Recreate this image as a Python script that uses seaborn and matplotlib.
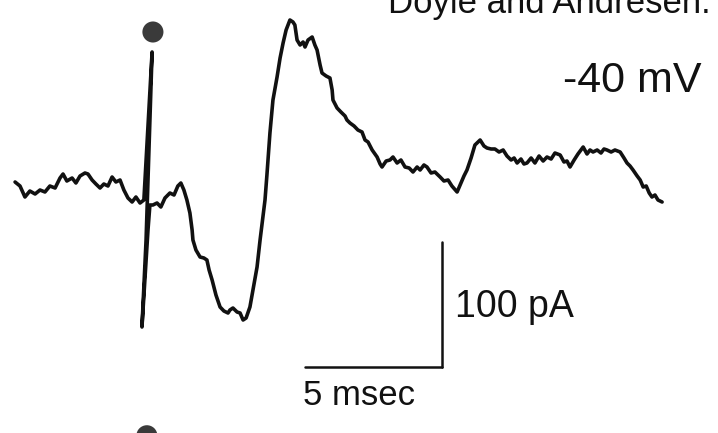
import numpy as np
import pandas as pd
import matplotlib
matplotlib.use("Agg")
import matplotlib.pyplot as plt
import seaborn as sns

# Whole-cell current trace at -40 mV, time in ms (0 = stimulus), current in pA
time_ms = [
    -4.85, -4.67, -4.49, -4.31, -4.12, -3.94, -3.76, -3.58, -3.39, -3.21,
    -3.10, -2.96, -2.77, -2.63, -2.48, -2.30, -2.19, -2.04, -1.90, -1.75,
    -1.61, -1.46, -1.31, -1.17, -1.02, -0.88, -0.73, -0.58, -0.44, -0.29,
    -0.15,
    # stimulus artifact
    0.15, -0.07, -0.22, 0.00, 0.07,
    0.18, 0.33, 0.47, 0.62, 0.80, 0.95, 1.09, 1.20, 1.31, 1.42,
    1.53, 1.61, 1.64, 1.75, 1.90, 2.04, 2.15, 2.23, 2.34, 2.48,
    2.63, 2.77, 2.92, 2.99, 3.10, 3.25, 3.36, 3.47, 3.58, 3.72,
    3.83, 3.98, 4.09, 4.20, 4.27, 4.34, 4.45, 4.56, 4.71, 4.82,
    4.93, 5.04, 5.18, 5.29, 5.36, 5.44, 5.55, 5.66, 5.73, 5.84,
    5.99, 6.09, 6.17, 6.28, 6.35, 6.50, 6.64, 6.72, 6.75, 6.90,
    7.04, 7.19, 7.26, 7.37, 7.52, 7.66, 7.81, 7.92, 8.03, 8.18,
    8.36, 8.47, 8.54, 8.69, 8.83, 8.94, 9.09, 9.23, 9.38, 9.53,
    9.67, 9.82, 9.93, 10.07, 10.18, 10.33, 10.47, 10.66, 10.80, 10.95,
    11.09, 11.28, 11.39, 11.53, 11.64, 11.79, 11.93, 12.12, 12.26, 12.37,
    12.52, 12.66, 12.81, 12.96, 13.10, 13.25, 13.36, 13.47, 13.61, 13.72,
    13.83, 13.98, 14.12, 14.27, 14.42, 14.56, 14.71, 14.85, 15.04, 15.18,
    15.29, 15.40, 15.55, 15.69, 15.80, 15.88, 16.02, 16.13, 16.24, 16.39,
    16.53, 16.64, 16.75, 16.90, 17.04, 17.23, 17.37, 17.48, 17.59, 17.70,
    17.85, 17.96, 18.07, 18.18, 18.29, 18.39, 18.50, 18.61, 18.76,
]
current_pA = [
    0.0, -3.2, -12.0, -7.2, -9.6, -6.4, -8.0, -3.2, -4.8, 3.2,
    6.4, 0.8, 3.2, -0.8, 4.8, 7.2, 6.4, 1.6, -1.6, -4.8,
    -1.6, -3.2, 4.0, 0.0, 1.6, -6.4, -12.8, -16.0, -12.0, -16.8,
    -14.4,
    104.0, -46.4, -116.0, -38.4, -18.4,
    -18.4, -16.8, -20.0, -12.8, -8.8, -10.4, -3.2, -0.8, -6.4, -14.4,
    -24.8, -38.4, -46.4, -54.4, -60.0, -60.8, -62.4, -70.4, -78.4, -90.4,
    -100.0, -103.2, -104.8, -102.4, -100.8, -104.0, -104.8, -110.4, -108.8, -100.0,
    -86.4, -68.0, -46.4, -26.4, -14.4, 5.6, 39.2, 65.6, 84.0, 99.2,
    111.2, 121.6, 129.6, 128.0, 125.6, 113.6, 109.6, 112.0, 108.0, 113.6,
    116.0, 109.6, 105.6, 93.6, 87.2, 84.8, 83.2, 73.6, 65.6, 59.2,
    56.0, 52.8, 49.6, 47.2, 44.8, 41.6, 40.0, 33.6, 32.0, 25.6,
    20.0, 14.4, 12.0, 16.8, 17.6, 20.0, 15.2, 17.6, 12.0, 11.2,
    8.0, 12.0, 9.6, 13.6, 12.0, 7.2, 8.0, 4.0, 0.8, 1.6,
    -3.2, -8.0, -2.4, 4.8, 9.6, 19.2, 29.6, 33.6, 28.8, 27.2,
    26.4, 26.4, 24.0, 25.6, 20.8, 17.6, 19.2, 15.2, 18.4, 14.4,
    15.2, 19.2, 15.2, 20.8, 16.8, 20.0, 18.4, 23.2, 21.6, 16.0,
    16.8, 12.0, 17.6, 22.4, 25.6, 28.0, 22.4, 25.6, 24.0, 25.6,
    23.2, 26.4, 25.6, 24.0, 25.6, 24.0, 19.2, 15.2, 12.8, 9.6,
    4.8, 1.6, -4.0, -3.2, -8.8, -12.0, -10.4, -14.4, -16.0,
]

# stimulus markers (filled dots)
marker_t = [0.18, -0.04]
marker_i = [120.0, -203.0]

# calibration bars
bar_t0, bar_len_ms = 5.73, 5
bar_i0, bar_len_pA = -148.0, 100

trace = pd.DataFrame({"t": time_ms, "i": current_pA})
dots = pd.DataFrame({"t": marker_t, "i": marker_i})

sns.set_style("white")
plt.rcParams["font.family"] = ["Liberation Sans", "DejaVu Sans"]

fig = plt.figure(figsize=(7.18, 4.33), dpi=100)
ax = fig.add_axes([0, 0, 1, 1])

sns.lineplot(data=trace, x="t", y="i", sort=False, estimator=None,
             color="#111111", linewidth=2.6, ax=ax)
sns.scatterplot(data=dots, x="t", y="i", s=230, color="#3a3a3a",
                edgecolor="none", ax=ax)

# scale bars
ax.plot([bar_t0, bar_t0 + bar_len_ms], [bar_i0, bar_i0], color="#111111", lw=1.8)
ax.plot([bar_t0 + bar_len_ms, bar_t0 + bar_len_ms], [bar_i0, bar_i0 + bar_len_pA],
        color="#111111", lw=1.8)

ax.text(5.66, -178.4, "5 msec", fontsize=25, va="baseline", ha="left", color="#111111")
ax.text(11.20, -108, "100 pA", fontsize=27, va="baseline", ha="left", color="#111111")
ax.text(15.15, 72, "-40 mV", fontsize=31, va="baseline", ha="left", color="#111111")
ax.text(8.76, 135.2, "Doyle and Andresen:", fontsize=25, va="baseline", ha="left",
        color="#111111")

ax.set_xlim(-5.40, 20.80)
ax.set_ylim(-200.8, 145.6)
ax.set_axis_off()

fig.savefig("out.png", dpi=100)
